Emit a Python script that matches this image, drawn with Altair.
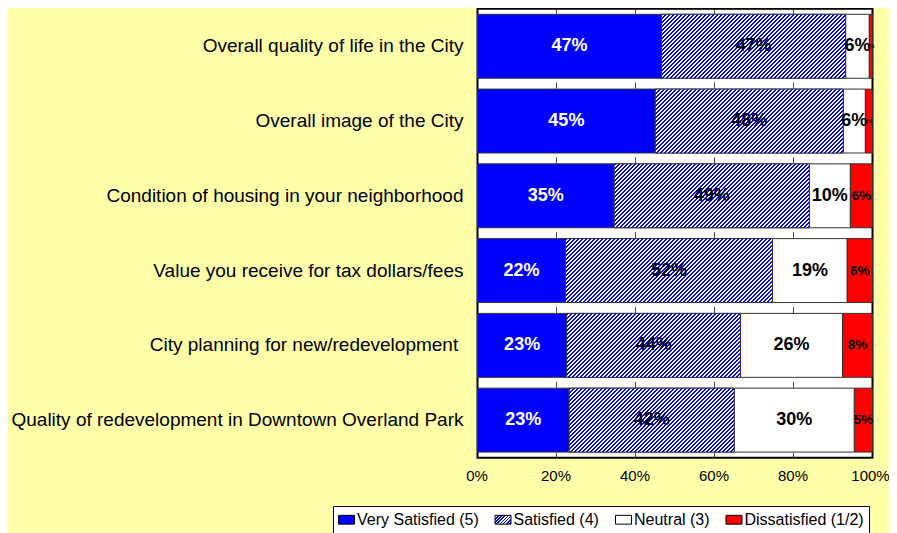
import json
import altair as alt
import pandas as pd

# ---------------- data ----------------
categories = [
    "Overall quality of life in the City",
    "Overall image of the City",
    "Condition of housing in your neighborhood",
    "Value you receive for tax dollars/fees",
    "City planning for new/redevelopment ",
    "Quality of redevelopment in Downtown Overland Park",
]
statuses = ["Very Satisfied (5)", "Satisfied (4)", "Neutral (3)", "Dissatisfied (1/2)"]
very_satisfied = [46.6, 45.0, 34.6, 22.3, 22.6, 23.2]
satisfied = [46.6, 47.6, 49.4, 52.4, 44.0, 41.8]
neutral = [6.0, 5.6, 10.4, 18.9, 25.8, 30.4]
dissatisfied = [0.8, 1.8, 5.6, 6.4, 7.6, 4.6]
x_ticks = [0, 20, 40, 60, 80, 100]

series = [very_satisfied, satisfied, neutral, dissatisfied]
rows = []
for i, c in enumerate(categories):
    for j, s in enumerate(statuses):
        rows.append({"cat": c, "status": s, "order": j, "value": series[j][i]})
df = pd.DataFrame(rows)
df_ticks = pd.DataFrame([{"cat": c, "tx": t} for c in categories for t in x_ticks[1:-1]])

# ---------------- style ----------------
FONT = "Liberation Sans, Arial, sans-serif"
BLUE = "#0000FF"
RED = "#FF0000"
BG = "#FFFFAA"
PLOT_W = 395
PLOT_H = 449
P_INNER = 0.145
P_OUTER = 0.075
STEP = PLOT_H / (len(categories) - P_INNER + 2 * P_OUTER)
BAND_H = STEP * (1 - P_INNER)
SYM_W, SYM_H = 16, 8.8


def hatch_gradient(w, h, period=4.0, duty=0.5):
    """Diagonal '/' stripes drawn as a hard-stop linear gradient over a w x h box."""
    k = (w + h) / (w * w + h * h)
    p = period / (w + h)
    stops = []
    j = 0
    while j * p < 1:
        a = j * p
        b = min(1.0, a + p * duty)
        c = min(1.0, (j + 1) * p)
        stops += [
            {"offset": round(a, 5), "color": BLUE},
            {"offset": round(b, 5), "color": BLUE},
            {"offset": round(b, 5), "color": "#FFFFFF"},
            {"offset": round(c, 5), "color": "#FFFFFF"},
        ]
        j += 1
    return {"gradient": "linear", "x1": 0, "y1": 0,
            "x2": round(w * k, 5), "y2": round(h * k, 5), "stops": stops}


legend_hatch = {"expr": json.dumps(hatch_gradient(SYM_W, SYM_H, period=3.2, duty=0.5))}

Y = alt.Y("cat:N", sort=categories, title=None,
          scale=alt.Scale(paddingInner=P_INNER, paddingOuter=P_OUTER),
          axis=alt.Axis(domain=False, ticks=False, tickSize=0,
                        labelPadding={"expr": "test(/ $/, datum.value) ? 19.8 : 14.5"},
                        labelFont=FONT, labelFontSize=19, labelColor="#000000",
                        labelLimit=600))
XSCALE = alt.Scale(domain=[0, 100], nice=False)
XAXIS = alt.Axis(values=x_ticks, labelExpr="datum.value + '%'", title=None,
                 domain=False, ticks=False, tickSize=0, grid=False,
                 labelPadding=10.5, labelFlush=False, labelFont=FONT,
                 labelOffset={"expr": "datum.value == 100 ? -2.5 : -1"},
                 labelFontSize=15, labelColor="#000000")

stacked = alt.Chart(df).transform_stack(
    stack="value", groupby=["cat"], as_=["x0", "x1"],
    sort=[alt.SortField("order", order="ascending")],
)

ticks_top = alt.Chart(df_ticks).mark_tick(
    color="#000000", thickness=1, size=6, yOffset=-(BAND_H / 2 + 3.5)
).encode(y=Y, x=alt.X("tx:Q", scale=XSCALE, axis=XAXIS))

ticks_bottom = alt.Chart(df_ticks).transform_filter(
    alt.datum.cat == categories[-1]
).mark_tick(
    color="#000000", thickness=1, size=5, yOffset=BAND_H / 2 + 3.3
).encode(y=Y, x=alt.X("tx:Q", scale=XSCALE, axis=XAXIS))

bars = stacked.mark_bar(stroke="#333333", strokeWidth=1).encode(
    y=Y,
    x=alt.X("x0:Q", scale=XSCALE, axis=XAXIS),
    x2="x1:Q",
    color=alt.Color(
        "status:N", sort=statuses,
        scale=alt.Scale(domain=statuses, range=[BLUE, legend_hatch, "#FFFFFF", RED]),
        legend=alt.Legend(
            title=None, orient="none", legendX=-144.5, legendY=497.3,
            direction="horizontal", fillColor="#FFFFFF", strokeColor="#000000",
            padding=5, labelFont=FONT, labelFontSize=16, labelColor="#000000",
            symbolType="M-1,-0.55L1,-0.55L1,0.55L-1,0.55Z", symbolSize=SYM_W * SYM_W,
            symbolStrokeColor="#000000", symbolStrokeWidth=1, symbolOpacity=1,
            columnPadding=13.5, labelOffset=2, labelLimit=400,
        ),
    ),
)

hatch_layers = []
for i, c in enumerate(categories):
    w = satisfied[i] / 100 * PLOT_W
    hatch_layers.append(
        stacked.transform_filter(
            (alt.datum.cat == c) & (alt.datum.status == statuses[1])
        ).mark_bar(fill=hatch_gradient(w, BAND_H), stroke="#333333", strokeWidth=1)
        .encode(y=Y, x=alt.X("x0:Q", scale=XSCALE, axis=XAXIS), x2="x1:Q")
    )

labelled = stacked.transform_calculate(
    mid="(datum.x0 + datum.x1) / 2",
    label="format(datum.value / 100, '.0%')",
    fs="datum.value < 3 ? 5 : (datum.status == 'Dissatisfied (1/2)' ? 13.5 : 18)",
)
text_white = labelled.transform_filter(alt.datum.status == statuses[0]).mark_text(
    font=FONT, fontWeight="bold", color="#FFFFFF", baseline="middle", align="center"
).encode(y=Y, x=alt.X("mid:Q", scale=XSCALE, axis=XAXIS), text="label:N",
         size=alt.Size("fs:Q", scale=None, legend=None))
text_black = labelled.transform_filter(alt.datum.status != statuses[0]).mark_text(
    font=FONT, fontWeight="bold", color="#000000", baseline="middle", align="center"
).encode(y=Y, x=alt.X("mid:Q", scale=XSCALE, axis=XAXIS), text="label:N",
         size=alt.Size("fs:Q", scale=None, legend=None))

chart = alt.layer(
    ticks_top, ticks_bottom, bars, *hatch_layers, text_white, text_black
).properties(
    width=PLOT_W, height=PLOT_H, background=BG,
    padding={"left": 469.5, "top": 0.7, "right": 16.5, "bottom": 75.3},
    autosize=alt.AutoSizeParams(type="none"),
).configure_view(
    stroke="#000000", strokeWidth=2, fill="#FFFFFF"
)

chart.save("out.html", embed_options={"renderer": "svg", "actions": False})
